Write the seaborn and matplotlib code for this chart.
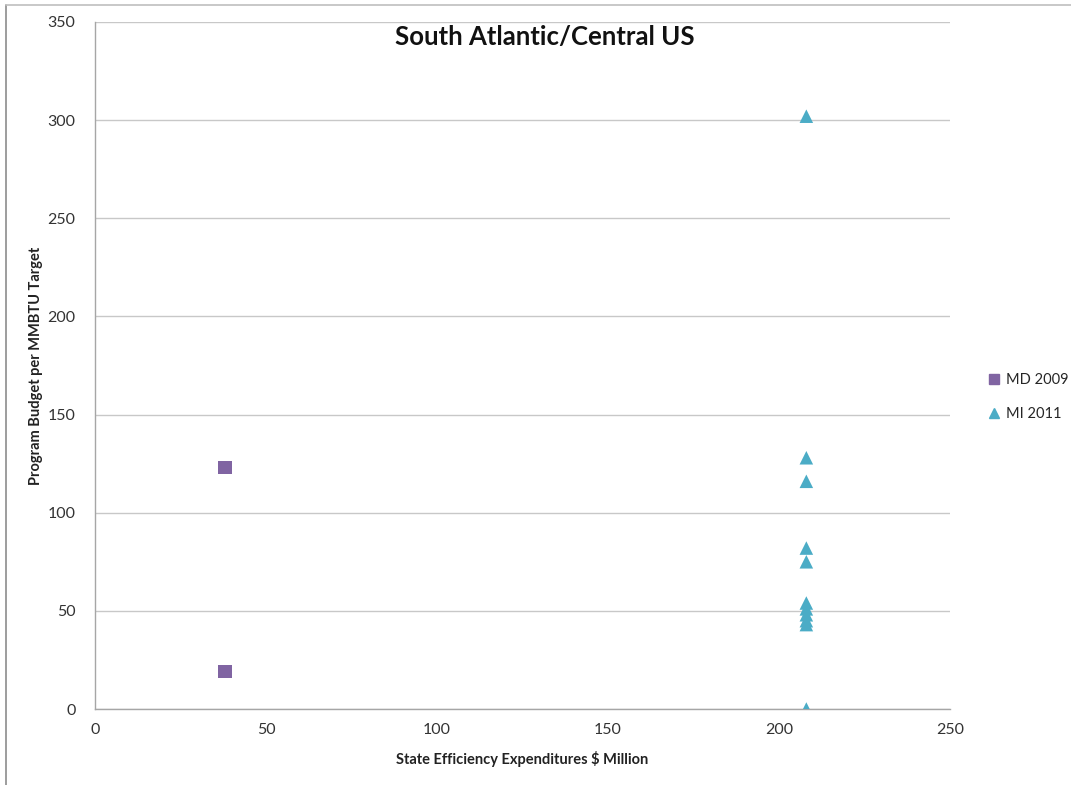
import matplotlib
matplotlib.use("Agg")
import matplotlib.pyplot as plt
from matplotlib.lines import Line2D
import seaborn as sns
import pandas as pd

# Program data: state efficiency spending vs budget per MMBTU target
md_label = "MD 2009"
md_x = [38, 38]
md_y = [123, 19]

mi_label = "MI 2011"
mi_x = [208, 208, 208, 208, 208, 208, 208, 208, 208, 208, 208]
mi_y = [302, 128, 116, 82, 75, 54, 51, 48, 45, 43, 0]

x_ticks = [0, 50, 100, 150, 200, 250]
y_ticks = [0, 50, 100, 150, 200, 250, 300, 350]

title = "South Atlantic/Central US"
x_label = "State Efficiency Expenditures $ Million"
y_label = "Program Budget per MMBTU Target"

colors = {md_label: "#8064a2", mi_label: "#4bacc6"}
markers = {md_label: "s", mi_label: "^"}

df = pd.DataFrame({
    "x": md_x + mi_x,
    "y": md_y + mi_y,
    "series": [md_label] * len(md_x) + [mi_label] * len(mi_x),
})

sns.set_style("white")
plt.rcParams["font.family"] = ["Lato", "DejaVu Sans"]

fig = plt.figure(figsize=(10.71, 7.85), dpi=100)
ax = fig.add_axes([0.0887, 0.0968, 0.7983, 0.8752])

sns.scatterplot(data=df, x="x", y="y", hue="series", style="series",
                palette=colors, markers=markers, s=95, linewidth=0,
                ax=ax, legend=False, zorder=3)

ax.set_xlim(0, 250)
ax.set_ylim(0, 350)
ax.set_xticks(x_ticks)
ax.set_yticks(y_ticks)
ax.tick_params(axis="both", labelsize=11.5, colors="#333333", length=4,
               width=0.8, direction="out", color="#a6a6a6")
ax.tick_params(axis="x", pad=6)
ax.tick_params(axis="y", pad=10)
ax.grid(axis="y", color="#c8c8c8", linewidth=1)
ax.set_axisbelow(True)
for side in ("top", "right"):
    ax.spines[side].set_visible(False)
for side in ("left", "bottom"):
    ax.spines[side].set_color("#a6a6a6")
    ax.spines[side].set_linewidth(1)

ax.set_xlabel(x_label, fontsize=10.5, fontweight="bold", labelpad=10, color="#222222")
ax.set_ylabel(y_label, fontsize=10.5, fontweight="bold", labelpad=3, color="#222222")

fig.text(545 / 1071, 1 - 37 / 785, title, ha="center", va="center",
         fontsize=18.5, fontweight="bold", color="#111111")

handles = [
    Line2D([], [], linestyle="none", marker=markers[md_label], color=colors[md_label],
           markersize=7, label=md_label),
    Line2D([], [], linestyle="none", marker=markers[mi_label], color=colors[mi_label],
           markersize=7, label=mi_label),
]
fig.legend(handles=handles, loc="center left", bbox_to_anchor=(0.921, 0.494),
           frameon=False, fontsize=10.5, handletextpad=0.35, handlelength=1.0,
           labelspacing=1.35, borderpad=0, borderaxespad=0)

# outer frame edges
fig.add_artist(Line2D([6 / 1071, 6 / 1071], [0, 1 - 5 / 785], transform=fig.transFigure,
                      color="#8c8c8c", linewidth=1.2))
fig.add_artist(Line2D([6 / 1071, 1], [1 - 5 / 785, 1 - 5 / 785], transform=fig.transFigure,
                      color="#bfbfbf", linewidth=1.2))

fig.savefig("out.png", dpi=100, facecolor="white")
